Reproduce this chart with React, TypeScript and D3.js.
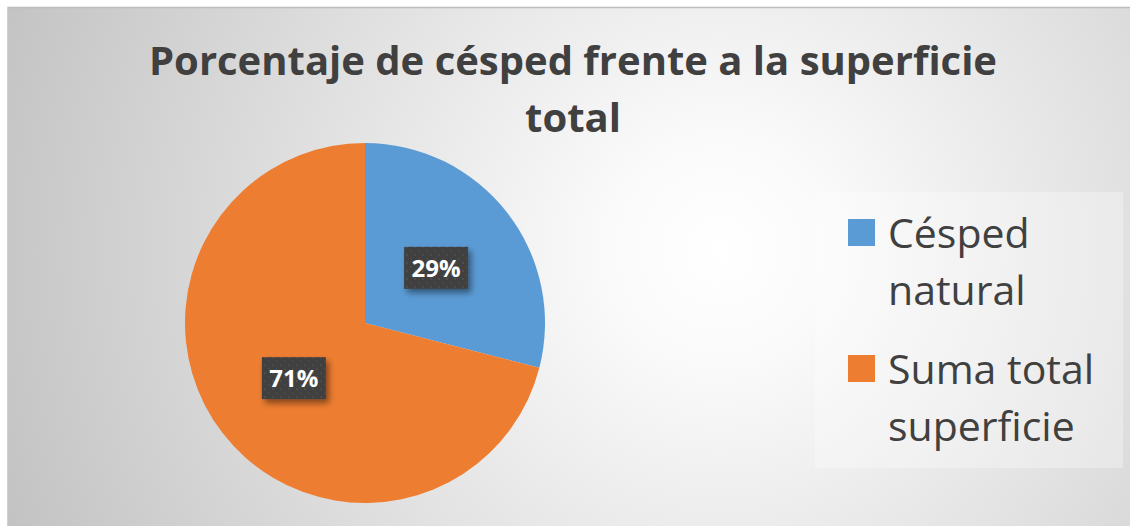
import React from "react";
import * as d3 from "d3";

const categories = ["Césped natural", "Suma total superficie"];
const values = [29, 71];
const colors = ["#5B9BD5", "#ED7D31"];
const titleLines = ["Porcentaje de césped frente a la superficie", "total"];
const legendLines = [["Césped", "natural"], ["Suma total", "superficie"]];

const W = 1130;
const H = 526;

export default function App() {
  const cx = 365, cy = 323, R = 180;
  const pie = d3.pie<number>().sort(null).value((d) => d);
  const arcs = pie(values);
  const arc = d3.arc<d3.PieArcDatum<number>>().innerRadius(0).outerRadius(R);
  const labelArc = d3.arc<d3.PieArcDatum<number>>().innerRadius(R * 0.5).outerRadius(R * 0.5);
  const total = d3.sum(values);
  const font = "'Open Sans', 'Noto Sans', sans-serif";

  return (
    <svg width={W} height={H} style={{ position: "absolute", left: 0, top: 0 }}>
      <defs>
        <radialGradient id="bg" gradientUnits="userSpaceOnUse" cx={720} cy={250} r={760}>
          <stop offset="0" stopColor="#ffffff" />
          <stop offset="0.15" stopColor="#fafafa" />
          <stop offset="1" stopColor="#c3c3c3" />
        </radialGradient>
        <pattern id="dots" width="8" height="8" patternUnits="userSpaceOnUse">
          <rect width="8" height="8" fill="#3f3f3f" />
          <rect x="2" y="2" width="2" height="2" fill="#4f4f4f" />
          <rect x="6" y="6" width="2" height="2" fill="#4a4a4a" />
        </pattern>
        <filter id="shadow" x="-30%" y="-30%" width="160%" height="170%">
          <feDropShadow dx="3" dy="4" stdDeviation="3" floodColor="#000" floodOpacity="0.45" />
        </filter>
      </defs>
      <rect x={0} y={0} width={W} height={H} fill="#ffffff" />
      <rect x={7} y={7} width={W - 7} height={H - 7} fill="url(#bg)" />
      <line x1={7} y1={7.5} x2={W} y2={7.5} stroke="#bdbdbd" strokeWidth={1.5} />
      <line x1={7.5} y1={7} x2={7.5} y2={H} stroke="#d0d0d0" strokeWidth={1} />

      {titleLines.map((t, i) => (
        <text
          key={i}
          x={573}
          y={75 + i * 57}
          textAnchor="middle"
          fontFamily={font}
          fontWeight={700}
          fontSize={40}
          fill="#404040"
        >
          {t}
        </text>
      ))}

      <g transform={`translate(${cx},${cy})`}>
        {arcs.map((a, i) => (
          <path key={i} d={arc(a) || ""} fill={colors[i]} />
        ))}
        {arcs.map((a, i) => {
          const [lx, ly] = labelArc.centroid(a);
          const bw = 64, bh = 42;
          return (
            <g key={"l" + i} transform={`translate(${lx},${ly})`}>
              <rect x={-bw / 2} y={-bh / 2} width={bw} height={bh} fill="url(#dots)" filter="url(#shadow)" />
              <text
                x={0}
                y={9}
                textAnchor="middle"
                fontFamily={font}
                fontWeight={700}
                fontSize={24}
                fill="#ffffff"
              >
                {Math.round((a.value / total) * 100)}%
              </text>
            </g>
          );
        })}
      </g>

      <rect x={815} y={192} width={308} height={276} fill="#ffffff" fillOpacity={0.3} />
      {categories.map((c, i) => (
        <g key={c}>
          <rect x={848} y={219 + i * 136} width={27} height={27} fill={colors[i]} />
          {legendLines[i].map((ln, j) => (
            <text
              key={j}
              x={888}
              y={248 + i * 136 + j * 57}
              fontFamily={font}
              fontSize={41}
              fill="#404040"
            >
              {ln}
            </text>
          ))}
        </g>
      ))}
    </svg>
  );
}
